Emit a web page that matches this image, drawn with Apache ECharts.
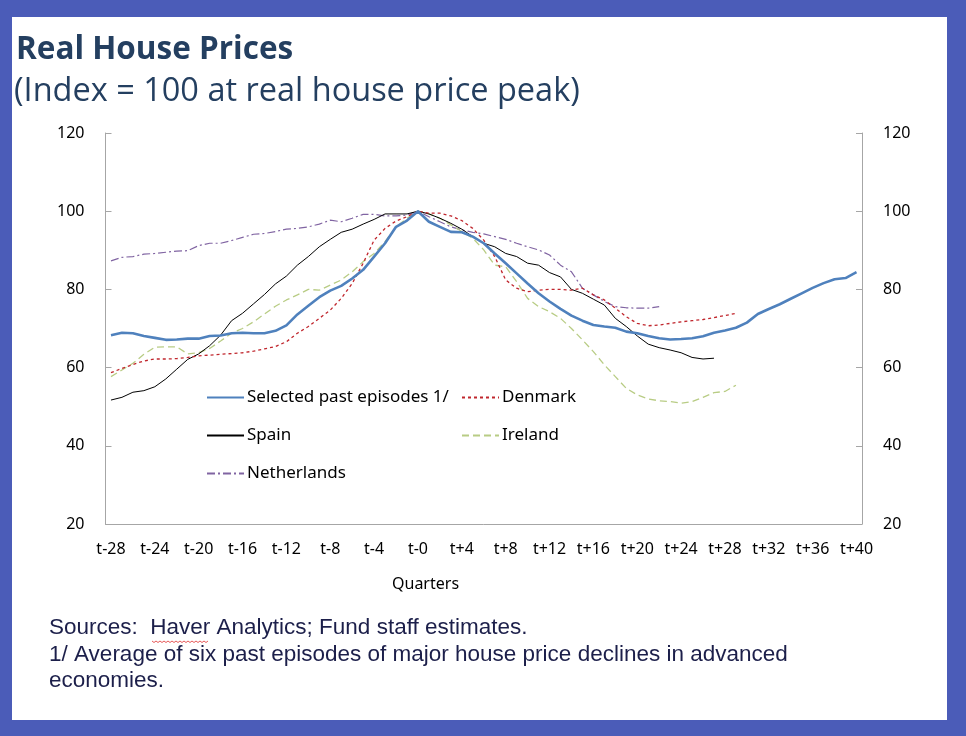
<!DOCTYPE html>
<html>
<head>
<meta charset="utf-8">
<script src="https://cdn.jsdelivr.net/npm/echarts@6/dist/echarts.min.js"></script>
<style>
html,body{margin:0;padding:0;background:#4b5cb8;}
#chart{width:966px;height:736px;}
</style>
</head>
<body>
<div id="chart"></div>
<script>
// Categories t-28 ... t+40
const categories = [];
for (let q = -28; q <= 40; q++) categories.push(q < 0 ? 't' + q : (q === 0 ? 't-0' : 't+' + q));

const selectedPast = [68.3,68.9,68.8,68.1,67.6,67.1,67.2,67.4,67.4,68.1,68.2,68.8,68.9,68.8,68.8,69.4,70.8,73.6,75.8,78.0,79.7,80.9,82.8,85.0,88.4,91.8,96.0,97.6,100.0,97.3,96.0,94.7,94.6,93.5,91.8,89.2,86.7,84.1,81.5,79.0,76.9,75.0,73.3,72.0,70.9,70.5,70.2,69.2,68.8,68.1,67.5,67.2,67.3,67.5,68.0,68.9,69.5,70.2,71.5,73.7,75.0,76.2,77.6,79.0,80.4,81.6,82.6,82.9,84.4];
const denmark = [58.7,59.8,60.8,61.7,62.2,62.2,62.3,62.6,63.0,63.2,63.4,63.6,63.8,64.2,64.8,65.4,66.6,68.8,70.5,72.6,74.7,77.7,81.5,86.7,92.6,95.6,97.5,98.6,100.0,99.5,99.5,98.8,97.6,95.6,92.6,88.4,82.4,80.3,79.4,79.8,80.0,80.0,79.8,80.3,78.6,77.3,75.2,73.0,71.3,70.7,70.9,71.3,71.7,72.0,72.3,72.8,73.3,73.9];
const spain = [51.7,52.4,53.7,54.1,55.1,57.1,59.6,62.1,63.5,65.6,68.3,72.0,73.9,76.3,78.7,81.4,83.4,86.2,88.4,90.9,92.8,94.6,95.4,96.7,97.9,99.3,99.3,99.3,100.0,99.3,98.2,96.9,95.4,93.5,91.8,90.9,89.2,88.4,86.7,86.2,84.3,83.2,80.0,79.0,77.5,76.0,72.6,70.5,68.1,66.0,65.1,64.5,63.8,62.6,62.2,62.4];
const ireland = [57.7,59.4,61.1,63.4,65.2,65.3,65.3,63.5,63.8,64.9,66.8,68.8,70.0,71.7,73.7,75.7,77.3,78.6,80.0,79.8,81.1,82.4,84.5,87.1,89.2,92.2,96.0,98.2,100.0,99.3,98.2,96.5,94.8,93.1,90.1,86.2,85.8,82.0,77.7,75.6,74.3,72.6,70.0,67.1,64.1,60.7,57.7,54.7,53.0,52.0,51.5,51.3,50.9,51.3,52.4,53.6,53.9,55.5];
const netherlands = [87.3,88.2,88.4,89.0,89.2,89.5,89.8,89.9,91.2,91.8,91.8,92.5,93.3,94.1,94.3,94.8,95.4,95.6,96.0,96.7,97.7,97.3,98.2,99.2,99.2,98.8,98.8,99.0,100.0,98.6,97.3,96.0,95.2,94.6,94.2,93.5,92.8,91.8,90.9,90.1,88.8,86.2,84.5,80.3,78.6,76.9,75.6,75.3,75.2,75.2,75.6];
const yTicks = {min: 20, max: 120, interval: 20};

const chart = echarts.init(document.getElementById('chart'), null, {renderer: 'canvas'});
const axisLabelStyle = {color: '#000', fontFamily: 'Noto Sans', fontSize: 16};
const axisLineStyle = {lineStyle: {color: '#a6a6a6', width: 1}};
const legendText = {color: '#000', fontFamily: 'Noto Sans', fontSize: 17, padding: [0,0,0,-2]};

// spell-check squiggle under "Haver"
const squiggle = [];
for (let i = 0; i <= 28; i++) squiggle.push([152 + i * 2, 641 + (i % 2 ? 1.5 : 0)]);

const option = {
  backgroundColor: '#4b5cb8',
  animation: false,
  graphic: [
    {type: 'rect', z: -10, shape: {x: 12, y: 17, width: 935, height: 703}, style: {fill: '#ffffff'}},
    {type: 'text', left: 16, top: 34, style: {text: 'Real House Prices', font: 'bold 31.5px "Open Sans"', fill: '#243f60'}},
    {type: 'text', left: 14, top: 75, style: {text: '(Index = 100 at real house price peak)', font: '32.5px "Open Sans"', fill: '#243f60'}},
    {type: 'text', left: 392, top: 576, style: {text: 'Quarters', font: '16px "Noto Sans"', fill: '#000'}},
    {type: 'text', left: 49, top: 616, style: {text: 'Sources:  Haver Analytics; Fund staff estimates.', font: '22.5px "Liberation Sans"', fill: '#1c1f4a'}},
    {type: 'text', left: 49, top: 643, style: {text: '1/ Average of six past episodes of major house price declines in advanced', font: '22.5px "Liberation Sans"', fill: '#1c1f4a'}},
    {type: 'text', left: 49, top: 669, style: {text: 'economies.', font: '22.5px "Liberation Sans"', fill: '#1c1f4a'}},
    {type: 'polyline', shape: {points: squiggle}, style: {stroke: '#e03030', lineWidth: 0.8, fill: null}}
  ],
  grid: {left: 105.5, right: 104, top: 133, bottom: 212, containLabel: false},
  legend: [
    {
      data: ['Selected past episodes 1/', 'Spain', 'Netherlands'],
      orient: 'vertical', left: 206, top: 389, padding: 0, itemWidth: 37, itemHeight: 14, itemGap: 21,
      itemStyle: {opacity: 0},
      textStyle: legendText
    },
    {
      data: ['Denmark', 'Ireland'],
      orient: 'vertical', left: 461, top: 389, padding: 0, itemWidth: 37, itemHeight: 14, itemGap: 21,
      itemStyle: {opacity: 0},
      textStyle: legendText
    }
  ],
  xAxis: {
    type: 'category', data: categories, boundaryGap: true,
    axisLine: axisLineStyle,
    axisTick: {inside: true, length: 6, interval: 3, lineStyle: {color: '#a6a6a6'}},
    axisLabel: Object.assign({interval: 3, margin: 17}, axisLabelStyle),
    splitLine: {show: false}
  },
  yAxis: [
    {type: 'value', min: yTicks.min, max: yTicks.max, interval: yTicks.interval, position: 'left',
     axisLine: Object.assign({show: true}, axisLineStyle),
     axisTick: {show: true, inside: true, length: 6, lineStyle: {color: '#a6a6a6'}},
     axisLabel: Object.assign({margin: 21}, axisLabelStyle), splitLine: {show: false}},
    {type: 'value', min: yTicks.min, max: yTicks.max, interval: yTicks.interval, position: 'right',
     axisLine: Object.assign({show: true}, axisLineStyle),
     axisTick: {show: true, inside: true, length: 6, lineStyle: {color: '#a6a6a6'}},
     axisLabel: Object.assign({margin: 21}, axisLabelStyle), splitLine: {show: false}}
  ],
  series: [
    {name: 'Netherlands', type: 'line', data: netherlands, symbol: 'none', z: 2,
     lineStyle: {color: '#8064a2', width: 1.2, type: [8,3,2,3]}, itemStyle: {color: '#8064a2'}},
    {name: 'Ireland', type: 'line', data: ireland, symbol: 'none', z: 3,
     lineStyle: {color: '#b8cc84', width: 1.3, type: [7,4]}, itemStyle: {color: '#b8cc84'}},
    {name: 'Spain', type: 'line', data: spain, symbol: 'none', z: 4,
     lineStyle: {color: '#000000', width: 1}, itemStyle: {color: '#000'}},
    {name: 'Denmark', type: 'line', data: denmark, symbol: 'none', z: 5,
     lineStyle: {color: '#c0262d', width: 1.3, type: [3,3]}, itemStyle: {color: '#c0262d'}},
    {name: 'Selected past episodes 1/', type: 'line', data: selectedPast, symbol: 'none', z: 6,
     lineStyle: {color: '#4f81bd', width: 2.6}, itemStyle: {color: '#4f81bd'}}
  ]
};
chart.setOption(option);
</script>
</body>
</html>
